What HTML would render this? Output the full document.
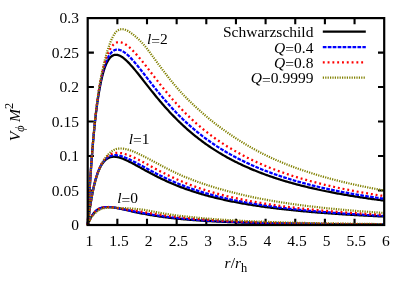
<!DOCTYPE html>
<html><head><meta charset="utf-8"><title>V phi</title>
<style>
html,body{margin:0;padding:0;background:#fff;}
svg{display:block;will-change:transform;font-family:"Liberation Serif",serif;font-size:15.5px;fill:#000;}
</style></head>
<body>
<svg width="415" height="290" viewBox="0 0 415 290">
<rect x="0" y="0" width="415" height="290" fill="#fff"/>
<g stroke="#000" stroke-width="2.1" fill="none">
<path d="M117.35,225.00 v-6.2 M117.35,18.10 v6.2"/>
<path d="M147.00,225.00 v-6.2 M147.00,18.10 v6.2"/>
<path d="M176.65,225.00 v-6.2 M176.65,18.10 v6.2"/>
<path d="M206.30,225.00 v-6.2 M206.30,18.10 v6.2"/>
<path d="M235.95,225.00 v-6.2 M235.95,18.10 v6.2"/>
<path d="M265.60,225.00 v-6.2 M265.60,18.10 v6.2"/>
<path d="M295.25,225.00 v-6.2 M295.25,18.10 v6.2"/>
<path d="M324.90,225.00 v-6.2 M324.90,18.10 v6.2"/>
<path d="M354.55,225.00 v-6.2 M354.55,18.10 v6.2"/>
<path d="M87.70,190.52 h6.2 M384.20,190.52 h-6.2"/>
<path d="M87.70,156.03 h6.2 M384.20,156.03 h-6.2"/>
<path d="M87.70,121.55 h6.2 M384.20,121.55 h-6.2"/>
<path d="M87.70,87.07 h6.2 M384.20,87.07 h-6.2"/>
<path d="M87.70,52.58 h6.2 M384.20,52.58 h-6.2"/>
</g>
<g>
<path d="M87.70,225.20 L88.00,219.26 L88.29,213.50 L88.59,207.92 L88.89,202.52 L89.18,197.28 L89.48,192.20 L89.78,187.28 L90.07,182.52 L90.37,177.90 L90.67,173.43 L90.96,169.09 L91.26,164.89 L91.55,160.82 L91.85,156.88 L92.15,153.06 L92.44,149.36 L92.74,145.78 L93.04,142.31 L93.33,138.95 L93.63,135.70 L93.93,132.55 L94.22,129.50 L94.52,126.55 L94.82,123.69 L95.11,120.92 L95.41,118.25 L95.71,115.66 L96.00,113.15 L96.30,110.73 L96.59,108.38 L96.89,106.12 L97.19,103.92 L97.48,101.80 L97.78,99.75 L98.08,97.77 L98.37,95.86 L98.67,94.01 L98.97,92.23 L99.26,90.50 L99.56,88.84 L99.86,87.23 L100.15,85.68 L100.45,84.18 L100.75,82.74 L101.04,81.35 L101.34,80.01 L101.64,78.72 L101.93,77.48 L102.23,76.28 L102.53,75.13 L102.82,74.02 L103.12,72.95 L103.41,71.93 L103.71,70.95 L104.01,70.00 L104.30,69.09 L104.60,68.23 L104.90,67.39 L105.19,66.59 L105.49,65.83 L105.79,65.10 L106.08,64.40 L106.38,63.73 L106.68,63.09 L106.97,62.49 L107.27,61.91 L107.57,61.36 L107.86,60.84 L108.16,60.34 L108.46,59.87 L108.75,59.42 L109.05,59.00 L109.34,58.61 L109.64,58.23 L109.94,57.88 L110.23,57.55 L110.53,57.25 L110.83,56.96 L111.12,56.69 L111.42,56.45 L111.72,56.22 L112.01,56.01 L112.31,55.82 L112.61,55.64 L112.90,55.49 L113.20,55.35 L113.50,55.23 L113.79,55.12 L114.09,55.03 L114.39,54.95 L114.68,54.89 L114.98,54.84 L115.27,54.80 L115.57,54.78 L115.87,54.77 L116.16,54.78 L116.46,54.79 L116.76,54.82 L117.05,54.86 L117.35,54.91 L117.65,54.97 L117.94,55.05 L118.24,55.13 L118.54,55.22 L118.83,55.33 L119.13,55.44 L119.43,55.56 L119.72,55.69 L120.02,55.83 L120.32,55.98 L120.61,56.14 L120.91,56.30 L121.20,56.47 L121.50,56.65 L121.80,56.84 L122.09,57.03 L122.39,57.23 L122.69,57.44 L122.98,57.66 L123.28,57.88 L124.47,58.82 L125.65,59.85 L126.84,60.95 L128.02,62.12 L129.21,63.35 L130.40,64.64 L131.58,65.96 L132.77,67.33 L133.95,68.73 L135.14,70.15 L136.33,71.60 L137.51,73.07 L138.70,74.55 L139.88,76.05 L141.07,77.55 L142.26,79.06 L143.44,80.57 L144.63,82.09 L145.81,83.60 L147.00,85.11 L148.19,86.62 L149.37,88.12 L150.56,89.61 L151.74,91.10 L152.93,92.57 L154.12,94.04 L155.30,95.49 L156.49,96.94 L157.67,98.37 L158.86,99.78 L160.05,101.19 L161.23,102.58 L162.42,103.95 L163.60,105.31 L164.79,106.66 L165.98,107.99 L167.16,109.30 L168.35,110.60 L169.53,111.89 L170.72,113.16 L171.91,114.41 L173.09,115.65 L174.28,116.87 L175.46,118.08 L176.65,119.27 L177.84,120.44 L179.02,121.60 L180.21,122.75 L181.39,123.88 L182.58,124.99 L183.77,126.09 L184.95,127.17 L186.14,128.24 L187.32,129.30 L188.51,130.34 L189.70,131.36 L190.88,132.37 L192.07,133.37 L193.25,134.35 L194.44,135.32 L195.63,136.28 L196.81,137.22 L198.00,138.15 L199.18,139.07 L200.37,139.98 L201.56,140.87 L202.74,141.75 L203.93,142.61 L205.11,143.47 L206.30,144.31 L207.49,145.14 L208.67,145.96 L209.86,146.77 L211.04,147.57 L212.23,148.36 L213.42,149.13 L214.60,149.90 L215.79,150.65 L216.97,151.39 L218.16,152.13 L219.35,152.85 L220.53,153.56 L221.72,154.27 L222.90,154.96 L224.09,155.65 L225.28,156.32 L226.46,156.99 L227.65,157.65 L228.83,158.29 L230.02,158.93 L231.21,159.57 L232.39,160.19 L233.58,160.80 L234.76,161.41 L235.95,162.01 L237.14,162.60 L238.32,163.18 L239.51,163.75 L240.69,164.32 L241.88,164.88 L243.07,165.43 L244.25,165.98 L245.44,166.52 L246.62,167.05 L247.81,167.57 L249.00,168.09 L250.18,168.60 L251.37,169.11 L252.55,169.60 L253.74,170.10 L254.93,170.58 L256.11,171.06 L257.30,171.53 L258.48,172.00 L259.67,172.46 L260.86,172.92 L262.04,173.37 L263.23,173.81 L264.41,174.25 L265.60,174.69 L266.79,175.12 L267.97,175.54 L269.16,175.96 L270.34,176.37 L271.53,176.78 L272.72,177.18 L273.90,177.58 L275.09,177.97 L276.27,178.36 L277.46,178.74 L278.65,179.12 L279.83,179.50 L281.02,179.87 L282.20,180.24 L283.39,180.60 L284.58,180.96 L285.76,181.31 L286.95,181.66 L288.13,182.00 L289.32,182.35 L290.51,182.68 L291.69,183.02 L292.88,183.35 L294.06,183.67 L295.25,183.99 L296.44,184.31 L297.62,184.63 L298.81,184.94 L299.99,185.25 L301.18,185.55 L302.37,185.85 L303.55,186.15 L304.74,186.45 L305.92,186.74 L307.11,187.03 L308.30,187.31 L309.48,187.59 L310.67,187.87 L311.85,188.15 L313.04,188.42 L314.23,188.69 L315.41,188.96 L316.60,189.22 L317.78,189.48 L318.97,189.74 L320.16,190.00 L321.34,190.25 L322.53,190.50 L323.71,190.75 L324.90,190.99 L326.09,191.24 L327.27,191.48 L328.46,191.71 L329.64,191.95 L330.83,192.18 L332.02,192.41 L333.20,192.64 L334.39,192.86 L335.57,193.09 L336.76,193.31 L337.95,193.53 L339.13,193.74 L340.32,193.96 L341.50,194.17 L342.69,194.38 L343.88,194.59 L345.06,194.80 L346.25,195.00 L347.43,195.20 L348.62,195.40 L349.81,195.60 L350.99,195.79 L352.18,195.99 L353.36,196.18 L354.55,196.37 L355.74,196.56 L356.92,196.75 L358.11,196.93 L359.29,197.11 L360.48,197.30 L361.67,197.48 L362.85,197.65 L364.04,197.83 L365.22,198.00 L366.41,198.18 L367.60,198.35 L368.78,198.52 L369.97,198.69 L371.15,198.85 L372.34,199.02 L373.53,199.18 L374.71,199.34 L375.90,199.50 L377.08,199.66 L378.27,199.82 L379.46,199.98 L380.64,200.13 L381.83,200.29 L383.01,200.44 L384.20,200.59" fill="none" stroke="#000" stroke-width="2.25"/>
<path d="M87.70,225.20 L88.00,222.66 L88.29,220.20 L88.59,217.82 L88.89,215.52 L89.18,213.29 L89.48,211.14 L89.78,209.06 L90.07,207.04 L90.37,205.10 L90.67,203.21 L90.96,201.39 L91.26,199.63 L91.55,197.93 L91.85,196.29 L92.15,194.70 L92.44,193.16 L92.74,191.68 L93.04,190.24 L93.33,188.86 L93.63,187.52 L93.93,186.22 L94.22,184.97 L94.52,183.76 L94.82,182.60 L95.11,181.47 L95.41,180.38 L95.71,179.34 L96.00,178.32 L96.30,177.35 L96.59,176.40 L96.89,175.49 L97.19,174.62 L97.48,173.77 L97.78,172.96 L98.08,172.17 L98.37,171.41 L98.67,170.69 L98.97,169.98 L99.26,169.31 L99.56,168.66 L99.86,168.03 L100.15,167.43 L100.45,166.85 L100.75,166.30 L101.04,165.77 L101.34,165.25 L101.64,164.76 L101.93,164.29 L102.23,163.84 L102.53,163.41 L102.82,162.99 L103.12,162.59 L103.41,162.21 L103.71,161.85 L104.01,161.51 L104.30,161.18 L104.60,160.86 L104.90,160.56 L105.19,160.27 L105.49,160.00 L105.79,159.74 L106.08,159.50 L106.38,159.27 L106.68,159.05 L106.97,158.84 L107.27,158.65 L107.57,158.46 L107.86,158.29 L108.16,158.13 L108.46,157.98 L108.75,157.84 L109.05,157.71 L109.34,157.58 L109.64,157.47 L109.94,157.37 L110.23,157.27 L110.53,157.19 L110.83,157.11 L111.12,157.04 L111.42,156.98 L111.72,156.93 L112.01,156.88 L112.31,156.84 L112.61,156.81 L112.90,156.78 L113.20,156.76 L113.50,156.75 L113.79,156.74 L114.09,156.74 L114.39,156.75 L114.68,156.76 L114.98,156.78 L115.27,156.80 L115.57,156.82 L115.87,156.86 L116.16,156.89 L116.46,156.93 L116.76,156.98 L117.05,157.03 L117.35,157.08 L117.65,157.14 L117.94,157.21 L118.24,157.27 L118.54,157.34 L118.83,157.42 L119.13,157.50 L119.43,157.58 L119.72,157.66 L120.02,157.75 L120.32,157.84 L120.61,157.93 L120.91,158.03 L121.20,158.13 L121.50,158.23 L121.80,158.34 L122.09,158.45 L122.39,158.56 L122.69,158.67 L122.98,158.78 L123.28,158.90 L124.47,159.39 L125.65,159.91 L126.84,160.46 L128.02,161.03 L129.21,161.62 L130.40,162.22 L131.58,162.84 L132.77,163.47 L133.95,164.11 L135.14,164.76 L136.33,165.41 L137.51,166.07 L138.70,166.73 L139.88,167.39 L141.07,168.05 L142.26,168.71 L143.44,169.36 L144.63,170.02 L145.81,170.67 L147.00,171.32 L148.19,171.96 L149.37,172.60 L150.56,173.24 L151.74,173.87 L152.93,174.49 L154.12,175.11 L155.30,175.72 L156.49,176.32 L157.67,176.92 L158.86,177.51 L160.05,178.09 L161.23,178.66 L162.42,179.23 L163.60,179.79 L164.79,180.35 L165.98,180.89 L167.16,181.43 L168.35,181.96 L169.53,182.49 L170.72,183.00 L171.91,183.51 L173.09,184.01 L174.28,184.51 L175.46,184.99 L176.65,185.48 L177.84,185.95 L179.02,186.41 L180.21,186.87 L181.39,187.33 L182.58,187.77 L183.77,188.21 L184.95,188.64 L186.14,189.07 L187.32,189.49 L188.51,189.90 L189.70,190.31 L190.88,190.71 L192.07,191.10 L193.25,191.49 L194.44,191.88 L195.63,192.25 L196.81,192.62 L198.00,192.99 L199.18,193.35 L200.37,193.70 L201.56,194.05 L202.74,194.40 L203.93,194.74 L205.11,195.07 L206.30,195.40 L207.49,195.72 L208.67,196.04 L209.86,196.36 L211.04,196.67 L212.23,196.97 L213.42,197.27 L214.60,197.57 L215.79,197.86 L216.97,198.15 L218.16,198.43 L219.35,198.71 L220.53,198.99 L221.72,199.26 L222.90,199.52 L224.09,199.79 L225.28,200.05 L226.46,200.30 L227.65,200.55 L228.83,200.80 L230.02,201.05 L231.21,201.29 L232.39,201.53 L233.58,201.76 L234.76,201.99 L235.95,202.22 L237.14,202.45 L238.32,202.67 L239.51,202.89 L240.69,203.10 L241.88,203.31 L243.07,203.52 L244.25,203.73 L245.44,203.94 L246.62,204.14 L247.81,204.34 L249.00,204.53 L250.18,204.72 L251.37,204.91 L252.55,205.10 L253.74,205.29 L254.93,205.47 L256.11,205.65 L257.30,205.83 L258.48,206.01 L259.67,206.18 L260.86,206.35 L262.04,206.52 L263.23,206.69 L264.41,206.85 L265.60,207.02 L266.79,207.18 L267.97,207.33 L269.16,207.49 L270.34,207.65 L271.53,207.80 L272.72,207.95 L273.90,208.10 L275.09,208.24 L276.27,208.39 L277.46,208.53 L278.65,208.67 L279.83,208.81 L281.02,208.95 L282.20,209.09 L283.39,209.22 L284.58,209.36 L285.76,209.49 L286.95,209.62 L288.13,209.75 L289.32,209.87 L290.51,210.00 L291.69,210.12 L292.88,210.24 L294.06,210.36 L295.25,210.48 L296.44,210.60 L297.62,210.72 L298.81,210.83 L299.99,210.95 L301.18,211.06 L302.37,211.17 L303.55,211.28 L304.74,211.39 L305.92,211.50 L307.11,211.60 L308.30,211.71 L309.48,211.81 L310.67,211.92 L311.85,212.02 L313.04,212.12 L314.23,212.22 L315.41,212.31 L316.60,212.41 L317.78,212.51 L318.97,212.60 L320.16,212.70 L321.34,212.79 L322.53,212.88 L323.71,212.97 L324.90,213.06 L326.09,213.15 L327.27,213.24 L328.46,213.33 L329.64,213.41 L330.83,213.50 L332.02,213.58 L333.20,213.66 L334.39,213.75 L335.57,213.83 L336.76,213.91 L337.95,213.99 L339.13,214.07 L340.32,214.15 L341.50,214.22 L342.69,214.30 L343.88,214.38 L345.06,214.45 L346.25,214.53 L347.43,214.60 L348.62,214.67 L349.81,214.74 L350.99,214.82 L352.18,214.89 L353.36,214.96 L354.55,215.03 L355.74,215.09 L356.92,215.16 L358.11,215.23 L359.29,215.30 L360.48,215.36 L361.67,215.43 L362.85,215.49 L364.04,215.55 L365.22,215.62 L366.41,215.68 L367.60,215.74 L368.78,215.80 L369.97,215.87 L371.15,215.93 L372.34,215.99 L373.53,216.04 L374.71,216.10 L375.90,216.16 L377.08,216.22 L378.27,216.28 L379.46,216.33 L380.64,216.39 L381.83,216.44 L383.01,216.50 L384.20,216.55" fill="none" stroke="#000" stroke-width="2.25"/>
<path d="M87.70,225.20 L88.00,224.35 L88.29,223.54 L88.59,222.76 L88.89,222.01 L89.18,221.29 L89.48,220.60 L89.78,219.94 L90.07,219.30 L90.37,218.69 L90.67,218.11 L90.96,217.55 L91.26,217.01 L91.55,216.49 L91.85,215.99 L92.15,215.52 L92.44,215.06 L92.74,214.63 L93.04,214.21 L93.33,213.81 L93.63,213.42 L93.93,213.06 L94.22,212.71 L94.52,212.37 L94.82,212.05 L95.11,211.75 L95.41,211.45 L95.71,211.17 L96.00,210.91 L96.30,210.65 L96.59,210.41 L96.89,210.18 L97.19,209.96 L97.48,209.76 L97.78,209.56 L98.08,209.37 L98.37,209.19 L98.67,209.02 L98.97,208.86 L99.26,208.71 L99.56,208.57 L99.86,208.44 L100.15,208.31 L100.45,208.19 L100.75,208.08 L101.04,207.97 L101.34,207.87 L101.64,207.78 L101.93,207.70 L102.23,207.62 L102.53,207.54 L102.82,207.48 L103.12,207.41 L103.41,207.36 L103.71,207.31 L104.01,207.26 L104.30,207.22 L104.60,207.18 L104.90,207.14 L105.19,207.11 L105.49,207.09 L105.79,207.07 L106.08,207.05 L106.38,207.04 L106.68,207.03 L106.97,207.02 L107.27,207.02 L107.57,207.02 L107.86,207.02 L108.16,207.02 L108.46,207.03 L108.75,207.04 L109.05,207.06 L109.34,207.07 L109.64,207.09 L109.94,207.11 L110.23,207.13 L110.53,207.16 L110.83,207.19 L111.12,207.22 L111.42,207.25 L111.72,207.28 L112.01,207.32 L112.31,207.35 L112.61,207.39 L112.90,207.43 L113.20,207.47 L113.50,207.51 L113.79,207.56 L114.09,207.60 L114.39,207.65 L114.68,207.70 L114.98,207.74 L115.27,207.79 L115.57,207.85 L115.87,207.90 L116.16,207.95 L116.46,208.00 L116.76,208.06 L117.05,208.11 L117.35,208.17 L117.65,208.23 L117.94,208.29 L118.24,208.34 L118.54,208.40 L118.83,208.46 L119.13,208.52 L119.43,208.59 L119.72,208.65 L120.02,208.71 L120.32,208.77 L120.61,208.83 L120.91,208.90 L121.20,208.96 L121.50,209.02 L121.80,209.09 L122.09,209.15 L122.39,209.22 L122.69,209.28 L122.98,209.35 L123.28,209.41 L124.47,209.68 L125.65,209.95 L126.84,210.21 L128.02,210.48 L129.21,210.75 L130.40,211.02 L131.58,211.28 L132.77,211.54 L133.95,211.80 L135.14,212.06 L136.33,212.31 L137.51,212.56 L138.70,212.81 L139.88,213.05 L141.07,213.29 L142.26,213.53 L143.44,213.76 L144.63,213.98 L145.81,214.21 L147.00,214.42 L148.19,214.64 L149.37,214.85 L150.56,215.05 L151.74,215.25 L152.93,215.45 L154.12,215.64 L155.30,215.83 L156.49,216.01 L157.67,216.19 L158.86,216.37 L160.05,216.54 L161.23,216.71 L162.42,216.87 L163.60,217.03 L164.79,217.19 L165.98,217.34 L167.16,217.49 L168.35,217.64 L169.53,217.78 L170.72,217.92 L171.91,218.06 L173.09,218.20 L174.28,218.33 L175.46,218.45 L176.65,218.58 L177.84,218.70 L179.02,218.82 L180.21,218.94 L181.39,219.05 L182.58,219.16 L183.77,219.27 L184.95,219.38 L186.14,219.48 L187.32,219.59 L188.51,219.68 L189.70,219.78 L190.88,219.88 L192.07,219.97 L193.25,220.06 L194.44,220.15 L195.63,220.24 L196.81,220.32 L198.00,220.41 L199.18,220.49 L200.37,220.57 L201.56,220.65 L202.74,220.72 L203.93,220.80 L205.11,220.87 L206.30,220.94 L207.49,221.01 L208.67,221.08 L209.86,221.15 L211.04,221.21 L212.23,221.28 L213.42,221.34 L214.60,221.40 L215.79,221.47 L216.97,221.52 L218.16,221.58 L219.35,221.64 L220.53,221.70 L221.72,221.75 L222.90,221.80 L224.09,221.86 L225.28,221.91 L226.46,221.96 L227.65,222.01 L228.83,222.06 L230.02,222.10 L231.21,222.15 L232.39,222.20 L233.58,222.24 L234.76,222.28 L235.95,222.33 L237.14,222.37 L238.32,222.41 L239.51,222.45 L240.69,222.49 L241.88,222.53 L243.07,222.57 L244.25,222.61 L245.44,222.64 L246.62,222.68 L247.81,222.72 L249.00,222.75 L250.18,222.79 L251.37,222.82 L252.55,222.85 L253.74,222.88 L254.93,222.92 L256.11,222.95 L257.30,222.98 L258.48,223.01 L259.67,223.04 L260.86,223.07 L262.04,223.10 L263.23,223.12 L264.41,223.15 L265.60,223.18 L266.79,223.21 L267.97,223.23 L269.16,223.26 L270.34,223.28 L271.53,223.31 L272.72,223.33 L273.90,223.36 L275.09,223.38 L276.27,223.40 L277.46,223.43 L278.65,223.45 L279.83,223.47 L281.02,223.49 L282.20,223.51 L283.39,223.54 L284.58,223.56 L285.76,223.58 L286.95,223.60 L288.13,223.62 L289.32,223.64 L290.51,223.66 L291.69,223.67 L292.88,223.69 L294.06,223.71 L295.25,223.73 L296.44,223.75 L297.62,223.76 L298.81,223.78 L299.99,223.80 L301.18,223.81 L302.37,223.83 L303.55,223.85 L304.74,223.86 L305.92,223.88 L307.11,223.89 L308.30,223.91 L309.48,223.92 L310.67,223.94 L311.85,223.95 L313.04,223.97 L314.23,223.98 L315.41,223.99 L316.60,224.01 L317.78,224.02 L318.97,224.03 L320.16,224.05 L321.34,224.06 L322.53,224.07 L323.71,224.08 L324.90,224.10 L326.09,224.11 L327.27,224.12 L328.46,224.13 L329.64,224.14 L330.83,224.16 L332.02,224.17 L333.20,224.18 L334.39,224.19 L335.57,224.20 L336.76,224.21 L337.95,224.22 L339.13,224.23 L340.32,224.24 L341.50,224.25 L342.69,224.26 L343.88,224.27 L345.06,224.28 L346.25,224.29 L347.43,224.30 L348.62,224.31 L349.81,224.32 L350.99,224.33 L352.18,224.33 L353.36,224.34 L354.55,224.35 L355.74,224.36 L356.92,224.37 L358.11,224.38 L359.29,224.39 L360.48,224.39 L361.67,224.40 L362.85,224.41 L364.04,224.42 L365.22,224.42 L366.41,224.43 L367.60,224.44 L368.78,224.45 L369.97,224.45 L371.15,224.46 L372.34,224.47 L373.53,224.48 L374.71,224.48 L375.90,224.49 L377.08,224.50 L378.27,224.50 L379.46,224.51 L380.64,224.52 L381.83,224.52 L383.01,224.53 L384.20,224.53" fill="none" stroke="#000" stroke-width="2.25"/>
<path d="M87.70,225.20 L88.00,219.26 L88.29,213.50 L88.59,207.92 L88.89,202.50 L89.18,197.26 L89.48,192.17 L89.78,187.24 L90.07,182.46 L90.37,177.83 L90.67,173.33 L90.96,168.98 L91.26,164.76 L91.55,160.67 L91.85,156.70 L92.15,152.86 L92.44,149.14 L92.74,145.53 L93.04,142.03 L93.33,138.64 L93.63,135.35 L93.93,132.17 L94.22,129.09 L94.52,126.10 L94.82,123.21 L95.11,120.40 L95.41,117.69 L95.71,115.06 L96.00,112.51 L96.30,110.04 L96.59,107.66 L96.89,105.34 L97.19,103.11 L97.48,100.94 L97.78,98.84 L98.08,96.81 L98.37,94.85 L98.67,92.95 L98.97,91.11 L99.26,89.33 L99.56,87.62 L99.86,85.95 L100.15,84.35 L100.45,82.80 L100.75,81.30 L101.04,79.85 L101.34,78.45 L101.64,77.10 L101.93,75.80 L102.23,74.54 L102.53,73.33 L102.82,72.16 L103.12,71.03 L103.41,69.94 L103.71,68.89 L104.01,67.88 L104.30,66.91 L104.60,65.97 L104.90,65.06 L105.19,64.20 L105.49,63.36 L105.79,62.56 L106.08,61.79 L106.38,61.05 L106.68,60.33 L106.97,59.65 L107.27,59.00 L107.57,58.37 L107.86,57.78 L108.16,57.20 L108.46,56.66 L108.75,56.14 L109.05,55.64 L109.34,55.17 L109.64,54.72 L109.94,54.29 L110.23,53.89 L110.53,53.50 L110.83,53.14 L111.12,52.80 L111.42,52.48 L111.72,52.18 L112.01,51.89 L112.31,51.63 L112.61,51.38 L112.90,51.16 L113.20,50.95 L113.50,50.75 L113.79,50.58 L114.09,50.42 L114.39,50.27 L114.68,50.14 L114.98,50.03 L115.27,49.93 L115.57,49.85 L115.87,49.78 L116.16,49.72 L116.46,49.68 L116.76,49.65 L117.05,49.64 L117.35,49.63 L117.65,49.64 L117.94,49.66 L118.24,49.69 L118.54,49.73 L118.83,49.79 L119.13,49.85 L119.43,49.92 L119.72,50.00 L120.02,50.09 L120.32,50.19 L120.61,50.30 L120.91,50.41 L121.20,50.54 L121.50,50.67 L121.80,50.81 L122.09,50.96 L122.39,51.12 L122.69,51.28 L122.98,51.45 L123.28,51.63 L124.47,52.40 L125.65,53.28 L126.84,54.25 L128.02,55.29 L129.21,56.42 L130.40,57.61 L131.58,58.86 L132.77,60.17 L133.95,61.52 L135.14,62.90 L136.33,64.32 L137.51,65.76 L138.70,67.23 L139.88,68.71 L141.07,70.21 L142.26,71.72 L143.44,73.24 L144.63,74.77 L145.81,76.30 L147.00,77.83 L148.19,79.36 L149.37,80.88 L150.56,82.41 L151.74,83.92 L152.93,85.44 L154.12,86.94 L155.30,88.43 L156.49,89.91 L157.67,91.39 L158.86,92.85 L160.05,94.29 L161.23,95.73 L162.42,97.14 L163.60,98.55 L164.79,99.94 L165.98,101.32 L167.16,102.68 L168.35,104.03 L169.53,105.36 L170.72,106.68 L171.91,107.98 L173.09,109.26 L174.28,110.53 L175.46,111.78 L176.65,113.02 L177.84,114.23 L179.02,115.44 L180.21,116.62 L181.39,117.79 L182.58,118.94 L183.77,120.08 L184.95,121.20 L186.14,122.31 L187.32,123.40 L188.51,124.48 L189.70,125.54 L190.88,126.59 L192.07,127.62 L193.25,128.64 L194.44,129.64 L195.63,130.63 L196.81,131.61 L198.00,132.58 L199.18,133.53 L200.37,134.47 L201.56,135.39 L202.74,136.31 L203.93,137.21 L205.11,138.10 L206.30,138.97 L207.49,139.84 L208.67,140.69 L209.86,141.54 L211.04,142.37 L212.23,143.18 L213.42,143.99 L214.60,144.79 L215.79,145.58 L216.97,146.35 L218.16,147.12 L219.35,147.87 L220.53,148.62 L221.72,149.35 L222.90,150.08 L224.09,150.79 L225.28,151.50 L226.46,152.19 L227.65,152.88 L228.83,153.56 L230.02,154.23 L231.21,154.89 L232.39,155.55 L233.58,156.19 L234.76,156.83 L235.95,157.46 L237.14,158.08 L238.32,158.69 L239.51,159.29 L240.69,159.89 L241.88,160.48 L243.07,161.06 L244.25,161.63 L245.44,162.20 L246.62,162.76 L247.81,163.31 L249.00,163.86 L250.18,164.40 L251.37,164.93 L252.55,165.45 L253.74,165.97 L254.93,166.49 L256.11,166.99 L257.30,167.50 L258.48,167.99 L259.67,168.48 L260.86,168.96 L262.04,169.44 L263.23,169.92 L264.41,170.39 L265.60,170.85 L266.79,171.31 L267.97,171.76 L269.16,172.21 L270.34,172.65 L271.53,173.08 L272.72,173.51 L273.90,173.94 L275.09,174.36 L276.27,174.78 L277.46,175.19 L278.65,175.59 L279.83,176.00 L281.02,176.39 L282.20,176.78 L283.39,177.17 L284.58,177.56 L285.76,177.94 L286.95,178.31 L288.13,178.68 L289.32,179.05 L290.51,179.41 L291.69,179.77 L292.88,180.12 L294.06,180.47 L295.25,180.82 L296.44,181.16 L297.62,181.50 L298.81,181.84 L299.99,182.17 L301.18,182.50 L302.37,182.82 L303.55,183.14 L304.74,183.46 L305.92,183.78 L307.11,184.09 L308.30,184.39 L309.48,184.70 L310.67,185.00 L311.85,185.29 L313.04,185.59 L314.23,185.88 L315.41,186.17 L316.60,186.45 L317.78,186.73 L318.97,187.01 L320.16,187.29 L321.34,187.56 L322.53,187.83 L323.71,188.09 L324.90,188.36 L326.09,188.62 L327.27,188.88 L328.46,189.14 L329.64,189.39 L330.83,189.64 L332.02,189.89 L333.20,190.14 L334.39,190.38 L335.57,190.62 L336.76,190.86 L337.95,191.10 L339.13,191.33 L340.32,191.56 L341.50,191.79 L342.69,192.02 L343.88,192.25 L345.06,192.47 L346.25,192.69 L347.43,192.91 L348.62,193.13 L349.81,193.34 L350.99,193.56 L352.18,193.77 L353.36,193.97 L354.55,194.18 L355.74,194.39 L356.92,194.59 L358.11,194.79 L359.29,194.99 L360.48,195.18 L361.67,195.38 L362.85,195.57 L364.04,195.76 L365.22,195.95 L366.41,196.14 L367.60,196.33 L368.78,196.51 L369.97,196.70 L371.15,196.88 L372.34,197.06 L373.53,197.23 L374.71,197.41 L375.90,197.59 L377.08,197.76 L378.27,197.93 L379.46,198.10 L380.64,198.27 L381.83,198.44 L383.01,198.60 L384.20,198.77" fill="none" stroke="#0000ff" stroke-width="2.25" stroke-dasharray="3.7 1.25"/>
<path d="M87.70,225.20 L88.00,222.66 L88.29,220.19 L88.59,217.81 L88.89,215.51 L89.18,213.28 L89.48,211.13 L89.78,209.04 L90.07,207.02 L90.37,205.07 L90.67,203.18 L90.96,201.36 L91.26,199.59 L91.55,197.88 L91.85,196.23 L92.15,194.63 L92.44,193.09 L92.74,191.59 L93.04,190.15 L93.33,188.75 L93.63,187.40 L93.93,186.09 L94.22,184.83 L94.52,183.61 L94.82,182.44 L95.11,181.30 L95.41,180.20 L95.71,179.13 L96.00,178.11 L96.30,177.12 L96.59,176.16 L96.89,175.23 L97.19,174.34 L97.48,173.48 L97.78,172.65 L98.08,171.84 L98.37,171.07 L98.67,170.32 L98.97,169.60 L99.26,168.91 L99.56,168.24 L99.86,167.60 L100.15,166.98 L100.45,166.38 L100.75,165.80 L101.04,165.25 L101.34,164.72 L101.64,164.21 L101.93,163.71 L102.23,163.24 L102.53,162.79 L102.82,162.35 L103.12,161.93 L103.41,161.53 L103.71,161.15 L104.01,160.78 L104.30,160.43 L104.60,160.09 L104.90,159.76 L105.19,159.45 L105.49,159.16 L105.79,158.88 L106.08,158.61 L106.38,158.35 L106.68,158.11 L106.97,157.88 L107.27,157.66 L107.57,157.45 L107.86,157.25 L108.16,157.06 L108.46,156.89 L108.75,156.72 L109.05,156.57 L109.34,156.42 L109.64,156.28 L109.94,156.15 L110.23,156.04 L110.53,155.93 L110.83,155.82 L111.12,155.73 L111.42,155.64 L111.72,155.56 L112.01,155.49 L112.31,155.43 L112.61,155.37 L112.90,155.33 L113.20,155.28 L113.50,155.25 L113.79,155.22 L114.09,155.20 L114.39,155.18 L114.68,155.17 L114.98,155.16 L115.27,155.16 L115.57,155.17 L115.87,155.18 L116.16,155.20 L116.46,155.22 L116.76,155.25 L117.05,155.28 L117.35,155.31 L117.65,155.35 L117.94,155.40 L118.24,155.45 L118.54,155.50 L118.83,155.56 L119.13,155.62 L119.43,155.69 L119.72,155.75 L120.02,155.83 L120.32,155.90 L120.61,155.98 L120.91,156.06 L121.20,156.14 L121.50,156.23 L121.80,156.32 L122.09,156.42 L122.39,156.51 L122.69,156.61 L122.98,156.71 L123.28,156.81 L124.47,157.25 L125.65,157.72 L126.84,158.22 L128.02,158.75 L129.21,159.29 L130.40,159.86 L131.58,160.44 L132.77,161.04 L133.95,161.64 L135.14,162.26 L136.33,162.88 L137.51,163.51 L138.70,164.14 L139.88,164.78 L141.07,165.41 L142.26,166.06 L143.44,166.70 L144.63,167.34 L145.81,167.98 L147.00,168.63 L148.19,169.27 L149.37,169.90 L150.56,170.54 L151.74,171.17 L152.93,171.79 L154.12,172.42 L155.30,173.03 L156.49,173.64 L157.67,174.25 L158.86,174.84 L160.05,175.44 L161.23,176.02 L162.42,176.60 L163.60,177.17 L164.79,177.74 L165.98,178.30 L167.16,178.85 L168.35,179.39 L169.53,179.93 L170.72,180.46 L171.91,180.99 L173.09,181.50 L174.28,182.01 L175.46,182.52 L176.65,183.01 L177.84,183.50 L179.02,183.98 L180.21,184.46 L181.39,184.93 L182.58,185.39 L183.77,185.85 L184.95,186.30 L186.14,186.74 L187.32,187.18 L188.51,187.61 L189.70,188.03 L190.88,188.45 L192.07,188.86 L193.25,189.26 L194.44,189.66 L195.63,190.06 L196.81,190.44 L198.00,190.83 L199.18,191.20 L200.37,191.57 L201.56,191.94 L202.74,192.30 L203.93,192.65 L205.11,193.00 L206.30,193.34 L207.49,193.68 L208.67,194.02 L209.86,194.34 L211.04,194.67 L212.23,194.99 L213.42,195.30 L214.60,195.61 L215.79,195.92 L216.97,196.22 L218.16,196.51 L219.35,196.81 L220.53,197.10 L221.72,197.38 L222.90,197.66 L224.09,197.94 L225.28,198.21 L226.46,198.48 L227.65,198.74 L228.83,199.00 L230.02,199.26 L231.21,199.51 L232.39,199.77 L233.58,200.01 L234.76,200.26 L235.95,200.50 L237.14,200.73 L238.32,200.97 L239.51,201.20 L240.69,201.43 L241.88,201.65 L243.07,201.87 L244.25,202.09 L245.44,202.31 L246.62,202.52 L247.81,202.73 L249.00,202.94 L250.18,203.14 L251.37,203.34 L252.55,203.54 L253.74,203.74 L254.93,203.93 L256.11,204.13 L257.30,204.31 L258.48,204.50 L259.67,204.69 L260.86,204.87 L262.04,205.05 L263.23,205.23 L264.41,205.40 L265.60,205.58 L266.79,205.75 L267.97,205.92 L269.16,206.09 L270.34,206.25 L271.53,206.42 L272.72,206.58 L273.90,206.74 L275.09,206.90 L276.27,207.05 L277.46,207.21 L278.65,207.36 L279.83,207.51 L281.02,207.66 L282.20,207.80 L283.39,207.95 L284.58,208.09 L285.76,208.23 L286.95,208.37 L288.13,208.51 L289.32,208.65 L290.51,208.78 L291.69,208.92 L292.88,209.05 L294.06,209.18 L295.25,209.31 L296.44,209.43 L297.62,209.56 L298.81,209.68 L299.99,209.81 L301.18,209.93 L302.37,210.05 L303.55,210.17 L304.74,210.29 L305.92,210.40 L307.11,210.52 L308.30,210.63 L309.48,210.75 L310.67,210.86 L311.85,210.97 L313.04,211.08 L314.23,211.18 L315.41,211.29 L316.60,211.40 L317.78,211.50 L318.97,211.60 L320.16,211.71 L321.34,211.81 L322.53,211.91 L323.71,212.01 L324.90,212.10 L326.09,212.20 L327.27,212.29 L328.46,212.39 L329.64,212.48 L330.83,212.57 L332.02,212.67 L333.20,212.76 L334.39,212.85 L335.57,212.93 L336.76,213.02 L337.95,213.11 L339.13,213.19 L340.32,213.28 L341.50,213.36 L342.69,213.45 L343.88,213.53 L345.06,213.61 L346.25,213.69 L347.43,213.77 L348.62,213.85 L349.81,213.93 L350.99,214.00 L352.18,214.08 L353.36,214.16 L354.55,214.23 L355.74,214.31 L356.92,214.38 L358.11,214.45 L359.29,214.53 L360.48,214.60 L361.67,214.67 L362.85,214.74 L364.04,214.81 L365.22,214.88 L366.41,214.94 L367.60,215.01 L368.78,215.08 L369.97,215.15 L371.15,215.21 L372.34,215.28 L373.53,215.34 L374.71,215.40 L375.90,215.47 L377.08,215.53 L378.27,215.59 L379.46,215.65 L380.64,215.72 L381.83,215.78 L383.01,215.84 L384.20,215.90" fill="none" stroke="#0000ff" stroke-width="2.25" stroke-dasharray="3.7 1.25"/>
<path d="M87.70,225.20 L88.00,224.35 L88.29,223.54 L88.59,222.76 L88.89,222.01 L89.18,221.29 L89.48,220.60 L89.78,219.94 L90.07,219.30 L90.37,218.69 L90.67,218.11 L90.96,217.55 L91.26,217.01 L91.55,216.49 L91.85,215.99 L92.15,215.52 L92.44,215.06 L92.74,214.63 L93.04,214.21 L93.33,213.81 L93.63,213.42 L93.93,213.06 L94.22,212.71 L94.52,212.37 L94.82,212.05 L95.11,211.75 L95.41,211.45 L95.71,211.17 L96.00,210.91 L96.30,210.65 L96.59,210.41 L96.89,210.18 L97.19,209.96 L97.48,209.76 L97.78,209.56 L98.08,209.37 L98.37,209.19 L98.67,209.02 L98.97,208.86 L99.26,208.71 L99.56,208.57 L99.86,208.44 L100.15,208.31 L100.45,208.19 L100.75,208.08 L101.04,207.97 L101.34,207.87 L101.64,207.78 L101.93,207.70 L102.23,207.62 L102.53,207.54 L102.82,207.48 L103.12,207.41 L103.41,207.36 L103.71,207.30 L104.01,207.26 L104.30,207.21 L104.60,207.17 L104.90,207.14 L105.19,207.11 L105.49,207.08 L105.79,207.06 L106.08,207.04 L106.38,207.02 L106.68,207.01 L106.97,207.00 L107.27,206.99 L107.57,206.99 L107.86,206.98 L108.16,206.99 L108.46,206.99 L108.75,207.00 L109.05,207.01 L109.34,207.02 L109.64,207.03 L109.94,207.05 L110.23,207.07 L110.53,207.09 L110.83,207.11 L111.12,207.14 L111.42,207.17 L111.72,207.19 L112.01,207.22 L112.31,207.26 L112.61,207.29 L112.90,207.32 L113.20,207.36 L113.50,207.40 L113.79,207.44 L114.09,207.48 L114.39,207.52 L114.68,207.56 L114.98,207.61 L115.27,207.65 L115.57,207.70 L115.87,207.75 L116.16,207.80 L116.46,207.85 L116.76,207.90 L117.05,207.95 L117.35,208.00 L117.65,208.05 L117.94,208.11 L118.24,208.16 L118.54,208.22 L118.83,208.27 L119.13,208.33 L119.43,208.38 L119.72,208.44 L120.02,208.50 L120.32,208.56 L120.61,208.62 L120.91,208.67 L121.20,208.73 L121.50,208.79 L121.80,208.85 L122.09,208.91 L122.39,208.97 L122.69,209.03 L122.98,209.09 L123.28,209.15 L124.47,209.40 L125.65,209.64 L126.84,209.89 L128.02,210.14 L129.21,210.38 L130.40,210.63 L131.58,210.88 L132.77,211.12 L133.95,211.36 L135.14,211.60 L136.33,211.83 L137.51,212.05 L138.70,212.28 L139.88,212.50 L141.07,212.72 L142.26,212.93 L143.44,213.15 L144.63,213.36 L145.81,213.57 L147.00,213.78 L148.19,213.98 L149.37,214.19 L150.56,214.38 L151.74,214.58 L152.93,214.77 L154.12,214.96 L155.30,215.15 L156.49,215.33 L157.67,215.51 L158.86,215.69 L160.05,215.86 L161.23,216.03 L162.42,216.20 L163.60,216.37 L164.79,216.53 L165.98,216.69 L167.16,216.84 L168.35,217.00 L169.53,217.15 L170.72,217.29 L171.91,217.44 L173.09,217.58 L174.28,217.72 L175.46,217.85 L176.65,217.98 L177.84,218.11 L179.02,218.24 L180.21,218.36 L181.39,218.49 L182.58,218.60 L183.77,218.72 L184.95,218.84 L186.14,218.95 L187.32,219.06 L188.51,219.16 L189.70,219.27 L190.88,219.37 L192.07,219.47 L193.25,219.57 L194.44,219.66 L195.63,219.76 L196.81,219.85 L198.00,219.94 L199.18,220.03 L200.37,220.11 L201.56,220.20 L202.74,220.28 L203.93,220.36 L205.11,220.44 L206.30,220.52 L207.49,220.59 L208.67,220.67 L209.86,220.74 L211.04,220.81 L212.23,220.88 L213.42,220.95 L214.60,221.01 L215.79,221.08 L216.97,221.14 L218.16,221.21 L219.35,221.27 L220.53,221.33 L221.72,221.39 L222.90,221.44 L224.09,221.50 L225.28,221.56 L226.46,221.61 L227.65,221.66 L228.83,221.72 L230.02,221.77 L231.21,221.82 L232.39,221.87 L233.58,221.92 L234.76,221.96 L235.95,222.01 L237.14,222.06 L238.32,222.10 L239.51,222.15 L240.69,222.19 L241.88,222.23 L243.07,222.28 L244.25,222.32 L245.44,222.36 L246.62,222.40 L247.81,222.44 L249.00,222.47 L250.18,222.51 L251.37,222.55 L252.55,222.59 L253.74,222.62 L254.93,222.66 L256.11,222.69 L257.30,222.72 L258.48,222.76 L259.67,222.79 L260.86,222.82 L262.04,222.85 L263.23,222.89 L264.41,222.92 L265.60,222.95 L266.79,222.98 L267.97,223.01 L269.16,223.03 L270.34,223.06 L271.53,223.09 L272.72,223.12 L273.90,223.15 L275.09,223.17 L276.27,223.20 L277.46,223.22 L278.65,223.25 L279.83,223.27 L281.02,223.30 L282.20,223.32 L283.39,223.34 L284.58,223.37 L285.76,223.39 L286.95,223.41 L288.13,223.43 L289.32,223.46 L290.51,223.48 L291.69,223.50 L292.88,223.52 L294.06,223.54 L295.25,223.56 L296.44,223.58 L297.62,223.60 L298.81,223.62 L299.99,223.64 L301.18,223.65 L302.37,223.67 L303.55,223.69 L304.74,223.71 L305.92,223.73 L307.11,223.74 L308.30,223.76 L309.48,223.78 L310.67,223.79 L311.85,223.81 L313.04,223.82 L314.23,223.84 L315.41,223.85 L316.60,223.87 L317.78,223.88 L318.97,223.90 L320.16,223.91 L321.34,223.93 L322.53,223.94 L323.71,223.96 L324.90,223.97 L326.09,223.98 L327.27,224.00 L328.46,224.01 L329.64,224.02 L330.83,224.03 L332.02,224.05 L333.20,224.06 L334.39,224.07 L335.57,224.08 L336.76,224.10 L337.95,224.11 L339.13,224.12 L340.32,224.13 L341.50,224.14 L342.69,224.15 L343.88,224.16 L345.06,224.17 L346.25,224.18 L347.43,224.19 L348.62,224.21 L349.81,224.22 L350.99,224.23 L352.18,224.24 L353.36,224.24 L354.55,224.25 L355.74,224.26 L356.92,224.27 L358.11,224.28 L359.29,224.29 L360.48,224.30 L361.67,224.31 L362.85,224.32 L364.04,224.33 L365.22,224.34 L366.41,224.34 L367.60,224.35 L368.78,224.36 L369.97,224.37 L371.15,224.38 L372.34,224.38 L373.53,224.39 L374.71,224.40 L375.90,224.41 L377.08,224.42 L378.27,224.42 L379.46,224.43 L380.64,224.44 L381.83,224.44 L383.01,224.45 L384.20,224.46" fill="none" stroke="#0000ff" stroke-width="2.25" stroke-dasharray="3.7 1.25"/>
<path d="M87.70,225.20 L88.00,219.26 L88.29,213.49 L88.59,207.90 L88.89,202.48 L89.18,197.22 L89.48,192.12 L89.78,187.17 L90.07,182.37 L90.37,177.72 L90.67,173.20 L90.96,168.82 L91.26,164.57 L91.55,160.45 L91.85,156.45 L92.15,152.57 L92.44,148.81 L92.74,145.17 L93.04,141.63 L93.33,138.19 L93.63,134.87 L93.93,131.64 L94.22,128.51 L94.52,125.47 L94.82,122.53 L95.11,119.67 L95.41,116.91 L95.71,114.22 L96.00,111.62 L96.30,109.10 L96.59,106.65 L96.89,104.28 L97.19,101.98 L97.48,99.75 L97.78,97.59 L98.08,95.50 L98.37,93.47 L98.67,91.51 L98.97,89.60 L99.26,87.76 L99.56,85.97 L99.86,84.24 L100.15,82.56 L100.45,80.94 L100.75,79.36 L101.04,77.84 L101.34,76.37 L101.64,74.94 L101.93,73.56 L102.23,72.22 L102.53,70.93 L102.82,69.67 L103.12,68.46 L103.41,67.28 L103.71,66.15 L104.01,65.04 L104.30,63.97 L104.60,62.94 L104.90,61.94 L105.19,60.97 L105.49,60.04 L105.79,59.13 L106.08,58.26 L106.38,57.41 L106.68,56.60 L106.97,55.81 L107.27,55.05 L107.57,54.31 L107.86,53.61 L108.16,52.93 L108.46,52.27 L108.75,51.64 L109.05,51.03 L109.34,50.45 L109.64,49.89 L109.94,49.35 L110.23,48.83 L110.53,48.34 L110.83,47.87 L111.12,47.42 L111.42,46.99 L111.72,46.58 L112.01,46.19 L112.31,45.82 L112.61,45.47 L112.90,45.14 L113.20,44.83 L113.50,44.54 L113.79,44.27 L114.09,44.01 L114.39,43.77 L114.68,43.55 L114.98,43.34 L115.27,43.16 L115.57,42.99 L115.87,42.83 L116.16,42.70 L116.46,42.58 L116.76,42.47 L117.05,42.38 L117.35,42.31 L117.65,42.25 L117.94,42.21 L118.24,42.17 L118.54,42.15 L118.83,42.14 L119.13,42.14 L119.43,42.15 L119.72,42.17 L120.02,42.21 L120.32,42.25 L120.61,42.30 L120.91,42.36 L121.20,42.44 L121.50,42.52 L121.80,42.61 L122.09,42.71 L122.39,42.82 L122.69,42.93 L122.98,43.06 L123.28,43.19 L124.47,43.79 L125.65,44.51 L126.84,45.33 L128.02,46.24 L129.21,47.22 L130.40,48.28 L131.58,49.41 L132.77,50.59 L133.95,51.82 L135.14,53.08 L136.33,54.38 L137.51,55.72 L138.70,57.08 L139.88,58.47 L141.07,59.89 L142.26,61.33 L143.44,62.80 L144.63,64.29 L145.81,65.79 L147.00,67.32 L148.19,68.86 L149.37,70.40 L150.56,71.95 L151.74,73.50 L152.93,75.04 L154.12,76.59 L155.30,78.13 L156.49,79.66 L157.67,81.18 L158.86,82.70 L160.05,84.20 L161.23,85.70 L162.42,87.18 L163.60,88.65 L164.79,90.11 L165.98,91.55 L167.16,92.98 L168.35,94.40 L169.53,95.80 L170.72,97.19 L171.91,98.57 L173.09,99.92 L174.28,101.27 L175.46,102.59 L176.65,103.91 L177.84,105.20 L179.02,106.48 L180.21,107.75 L181.39,109.00 L182.58,110.23 L183.77,111.45 L184.95,112.66 L186.14,113.84 L187.32,115.02 L188.51,116.18 L189.70,117.32 L190.88,118.45 L192.07,119.56 L193.25,120.65 L194.44,121.74 L195.63,122.81 L196.81,123.86 L198.00,124.90 L199.18,125.92 L200.37,126.93 L201.56,127.93 L202.74,128.91 L203.93,129.88 L205.11,130.83 L206.30,131.78 L207.49,132.70 L208.67,133.62 L209.86,134.52 L211.04,135.41 L212.23,136.29 L213.42,137.15 L214.60,138.01 L215.79,138.85 L216.97,139.68 L218.16,140.50 L219.35,141.30 L220.53,142.10 L221.72,142.89 L222.90,143.67 L224.09,144.43 L225.28,145.19 L226.46,145.93 L227.65,146.67 L228.83,147.40 L230.02,148.12 L231.21,148.83 L232.39,149.53 L233.58,150.22 L234.76,150.90 L235.95,151.58 L237.14,152.25 L238.32,152.91 L239.51,153.56 L240.69,154.20 L241.88,154.83 L243.07,155.46 L244.25,156.08 L245.44,156.69 L246.62,157.29 L247.81,157.89 L249.00,158.48 L250.18,159.06 L251.37,159.63 L252.55,160.20 L253.74,160.76 L254.93,161.31 L256.11,161.86 L257.30,162.40 L258.48,162.93 L259.67,163.46 L260.86,163.98 L262.04,164.49 L263.23,165.00 L264.41,165.50 L265.60,166.00 L266.79,166.49 L267.97,166.97 L269.16,167.45 L270.34,167.93 L271.53,168.39 L272.72,168.86 L273.90,169.31 L275.09,169.77 L276.27,170.21 L277.46,170.65 L278.65,171.09 L279.83,171.52 L281.02,171.95 L282.20,172.37 L283.39,172.79 L284.58,173.20 L285.76,173.60 L286.95,174.01 L288.13,174.41 L289.32,174.80 L290.51,175.19 L291.69,175.57 L292.88,175.95 L294.06,176.33 L295.25,176.70 L296.44,177.07 L297.62,177.43 L298.81,177.79 L299.99,178.15 L301.18,178.50 L302.37,178.85 L303.55,179.19 L304.74,179.53 L305.92,179.87 L307.11,180.20 L308.30,180.53 L309.48,180.86 L310.67,181.18 L311.85,181.50 L313.04,181.81 L314.23,182.13 L315.41,182.43 L316.60,182.74 L317.78,183.04 L318.97,183.34 L320.16,183.64 L321.34,183.94 L322.53,184.23 L323.71,184.52 L324.90,184.80 L326.09,185.08 L327.27,185.36 L328.46,185.64 L329.64,185.91 L330.83,186.19 L332.02,186.45 L333.20,186.72 L334.39,186.98 L335.57,187.24 L336.76,187.50 L337.95,187.76 L339.13,188.01 L340.32,188.26 L341.50,188.51 L342.69,188.75 L343.88,189.00 L345.06,189.24 L346.25,189.48 L347.43,189.72 L348.62,189.95 L349.81,190.18 L350.99,190.42 L352.18,190.64 L353.36,190.87 L354.55,191.10 L355.74,191.32 L356.92,191.54 L358.11,191.76 L359.29,191.98 L360.48,192.19 L361.67,192.40 L362.85,192.61 L364.04,192.82 L365.22,193.03 L366.41,193.23 L367.60,193.44 L368.78,193.64 L369.97,193.84 L371.15,194.03 L372.34,194.23 L373.53,194.42 L374.71,194.61 L375.90,194.80 L377.08,194.99 L378.27,195.18 L379.46,195.36 L380.64,195.54 L381.83,195.73 L383.01,195.91 L384.20,196.08" fill="none" stroke="#ff0000" stroke-width="2.25" stroke-dasharray="1.9 2.9"/>
<path d="M87.70,225.20 L88.00,222.66 L88.29,220.19 L88.59,217.81 L88.89,215.51 L89.18,213.28 L89.48,211.12 L89.78,209.03 L90.07,207.01 L90.37,205.06 L90.67,203.17 L90.96,201.34 L91.26,199.57 L91.55,197.85 L91.85,196.20 L92.15,194.59 L92.44,193.04 L92.74,191.54 L93.04,190.08 L93.33,188.68 L93.63,187.32 L93.93,186.01 L94.22,184.73 L94.52,183.50 L94.82,182.32 L95.11,181.17 L95.41,180.05 L95.71,178.98 L96.00,177.94 L96.30,176.93 L96.59,175.96 L96.89,175.02 L97.19,174.11 L97.48,173.23 L97.78,172.37 L98.08,171.55 L98.37,170.76 L98.67,169.99 L98.97,169.24 L99.26,168.53 L99.56,167.83 L99.86,167.16 L100.15,166.52 L100.45,165.89 L100.75,165.29 L101.04,164.71 L101.34,164.15 L101.64,163.61 L101.93,163.09 L102.23,162.59 L102.53,162.11 L102.82,161.64 L103.12,161.20 L103.41,160.76 L103.71,160.35 L104.01,159.95 L104.30,159.56 L104.60,159.19 L104.90,158.83 L105.19,158.49 L105.49,158.16 L105.79,157.84 L106.08,157.54 L106.38,157.25 L106.68,156.97 L106.97,156.70 L107.27,156.44 L107.57,156.19 L107.86,155.96 L108.16,155.73 L108.46,155.52 L108.75,155.31 L109.05,155.12 L109.34,154.93 L109.64,154.76 L109.94,154.59 L110.23,154.43 L110.53,154.28 L110.83,154.14 L111.12,154.00 L111.42,153.88 L111.72,153.76 L112.01,153.65 L112.31,153.55 L112.61,153.45 L112.90,153.36 L113.20,153.28 L113.50,153.21 L113.79,153.14 L114.09,153.08 L114.39,153.02 L114.68,152.97 L114.98,152.93 L115.27,152.89 L115.57,152.86 L115.87,152.84 L116.16,152.82 L116.46,152.80 L116.76,152.79 L117.05,152.79 L117.35,152.79 L117.65,152.80 L117.94,152.81 L118.24,152.83 L118.54,152.84 L118.83,152.87 L119.13,152.89 L119.43,152.92 L119.72,152.96 L120.02,153.00 L120.32,153.04 L120.61,153.08 L120.91,153.13 L121.20,153.18 L121.50,153.23 L121.80,153.29 L122.09,153.35 L122.39,153.41 L122.69,153.48 L122.98,153.55 L123.28,153.62 L124.47,153.93 L125.65,154.28 L126.84,154.66 L128.02,155.08 L129.21,155.53 L130.40,156.00 L131.58,156.51 L132.77,157.03 L133.95,157.57 L135.14,158.12 L136.33,158.68 L137.51,159.25 L138.70,159.83 L139.88,160.42 L141.07,161.02 L142.26,161.63 L143.44,162.25 L144.63,162.88 L145.81,163.51 L147.00,164.15 L148.19,164.80 L149.37,165.45 L150.56,166.10 L151.74,166.74 L152.93,167.39 L154.12,168.03 L155.30,168.67 L156.49,169.30 L157.67,169.93 L158.86,170.56 L160.05,171.18 L161.23,171.80 L162.42,172.41 L163.60,173.01 L164.79,173.61 L165.98,174.20 L167.16,174.79 L168.35,175.37 L169.53,175.94 L170.72,176.51 L171.91,177.07 L173.09,177.62 L174.28,178.16 L175.46,178.70 L176.65,179.24 L177.84,179.77 L179.02,180.29 L180.21,180.80 L181.39,181.30 L182.58,181.80 L183.77,182.30 L184.95,182.78 L186.14,183.26 L187.32,183.73 L188.51,184.20 L189.70,184.66 L190.88,185.11 L192.07,185.56 L193.25,185.99 L194.44,186.43 L195.63,186.85 L196.81,187.28 L198.00,187.69 L199.18,188.10 L200.37,188.50 L201.56,188.90 L202.74,189.29 L203.93,189.67 L205.11,190.05 L206.30,190.42 L207.49,190.79 L208.67,191.15 L209.86,191.51 L211.04,191.86 L212.23,192.21 L213.42,192.55 L214.60,192.89 L215.79,193.22 L216.97,193.55 L218.16,193.87 L219.35,194.19 L220.53,194.50 L221.72,194.81 L222.90,195.11 L224.09,195.41 L225.28,195.71 L226.46,196.00 L227.65,196.29 L228.83,196.57 L230.02,196.85 L231.21,197.13 L232.39,197.40 L233.58,197.67 L234.76,197.94 L235.95,198.20 L237.14,198.46 L238.32,198.71 L239.51,198.96 L240.69,199.21 L241.88,199.46 L243.07,199.70 L244.25,199.93 L245.44,200.17 L246.62,200.40 L247.81,200.63 L249.00,200.85 L250.18,201.08 L251.37,201.30 L252.55,201.51 L253.74,201.73 L254.93,201.94 L256.11,202.15 L257.30,202.35 L258.48,202.56 L259.67,202.76 L260.86,202.96 L262.04,203.15 L263.23,203.34 L264.41,203.54 L265.60,203.72 L266.79,203.91 L267.97,204.09 L269.16,204.28 L270.34,204.46 L271.53,204.63 L272.72,204.81 L273.90,204.98 L275.09,205.15 L276.27,205.32 L277.46,205.49 L278.65,205.65 L279.83,205.81 L281.02,205.97 L282.20,206.13 L283.39,206.29 L284.58,206.45 L285.76,206.60 L286.95,206.75 L288.13,206.90 L289.32,207.05 L290.51,207.19 L291.69,207.34 L292.88,207.48 L294.06,207.62 L295.25,207.76 L296.44,207.90 L297.62,208.04 L298.81,208.17 L299.99,208.30 L301.18,208.43 L302.37,208.56 L303.55,208.69 L304.74,208.82 L305.92,208.95 L307.11,209.07 L308.30,209.19 L309.48,209.31 L310.67,209.44 L311.85,209.55 L313.04,209.67 L314.23,209.79 L315.41,209.90 L316.60,210.02 L317.78,210.13 L318.97,210.24 L320.16,210.35 L321.34,210.46 L322.53,210.57 L323.71,210.67 L324.90,210.78 L326.09,210.88 L327.27,210.99 L328.46,211.09 L329.64,211.19 L330.83,211.29 L332.02,211.39 L333.20,211.49 L334.39,211.58 L335.57,211.68 L336.76,211.77 L337.95,211.87 L339.13,211.96 L340.32,212.05 L341.50,212.14 L342.69,212.23 L343.88,212.32 L345.06,212.41 L346.25,212.50 L347.43,212.59 L348.62,212.67 L349.81,212.76 L350.99,212.84 L352.18,212.93 L353.36,213.01 L354.55,213.09 L355.74,213.17 L356.92,213.25 L358.11,213.33 L359.29,213.41 L360.48,213.49 L361.67,213.57 L362.85,213.65 L364.04,213.72 L365.22,213.80 L366.41,213.87 L367.60,213.95 L368.78,214.02 L369.97,214.09 L371.15,214.17 L372.34,214.24 L373.53,214.31 L374.71,214.38 L375.90,214.45 L377.08,214.52 L378.27,214.59 L379.46,214.65 L380.64,214.72 L381.83,214.79 L383.01,214.85 L384.20,214.92" fill="none" stroke="#ff0000" stroke-width="2.25" stroke-dasharray="1.9 2.9"/>
<path d="M87.70,225.20 L88.00,224.36 L88.29,223.55 L88.59,222.77 L88.89,222.02 L89.18,221.31 L89.48,220.62 L89.78,219.96 L90.07,219.33 L90.37,218.73 L90.67,218.15 L90.96,217.59 L91.26,217.06 L91.55,216.55 L91.85,216.06 L92.15,215.59 L92.44,215.15 L92.74,214.72 L93.04,214.31 L93.33,213.91 L93.63,213.53 L93.93,213.17 L94.22,212.83 L94.52,212.50 L94.82,212.18 L95.11,211.88 L95.41,211.59 L95.71,211.31 L96.00,211.05 L96.30,210.80 L96.59,210.56 L96.89,210.33 L97.19,210.12 L97.48,209.91 L97.78,209.71 L98.08,209.53 L98.37,209.35 L98.67,209.19 L98.97,209.03 L99.26,208.88 L99.56,208.74 L99.86,208.60 L100.15,208.48 L100.45,208.36 L100.75,208.25 L101.04,208.14 L101.34,208.05 L101.64,207.96 L101.93,207.87 L102.23,207.79 L102.53,207.72 L102.82,207.65 L103.12,207.59 L103.41,207.53 L103.71,207.48 L104.01,207.43 L104.30,207.39 L104.60,207.35 L104.90,207.31 L105.19,207.28 L105.49,207.25 L105.79,207.23 L106.08,207.21 L106.38,207.19 L106.68,207.17 L106.97,207.16 L107.27,207.15 L107.57,207.14 L107.86,207.14 L108.16,207.14 L108.46,207.14 L108.75,207.15 L109.05,207.15 L109.34,207.16 L109.64,207.17 L109.94,207.18 L110.23,207.20 L110.53,207.22 L110.83,207.23 L111.12,207.25 L111.42,207.28 L111.72,207.30 L112.01,207.33 L112.31,207.35 L112.61,207.38 L112.90,207.41 L113.20,207.44 L113.50,207.48 L113.79,207.51 L114.09,207.54 L114.39,207.58 L114.68,207.62 L114.98,207.66 L115.27,207.70 L115.57,207.74 L115.87,207.78 L116.16,207.82 L116.46,207.87 L116.76,207.91 L117.05,207.95 L117.35,208.00 L117.65,208.05 L117.94,208.09 L118.24,208.14 L118.54,208.18 L118.83,208.23 L119.13,208.27 L119.43,208.32 L119.72,208.36 L120.02,208.40 L120.32,208.45 L120.61,208.49 L120.91,208.53 L121.20,208.57 L121.50,208.62 L121.80,208.66 L122.09,208.70 L122.39,208.74 L122.69,208.78 L122.98,208.82 L123.28,208.86 L124.47,209.03 L125.65,209.19 L126.84,209.36 L128.02,209.53 L129.21,209.71 L130.40,209.89 L131.58,210.07 L132.77,210.27 L133.95,210.46 L135.14,210.65 L136.33,210.83 L137.51,211.02 L138.70,211.20 L139.88,211.39 L141.07,211.57 L142.26,211.76 L143.44,211.95 L144.63,212.14 L145.81,212.34 L147.00,212.54 L148.19,212.74 L149.37,212.94 L150.56,213.14 L151.74,213.34 L152.93,213.54 L154.12,213.73 L155.30,213.93 L156.49,214.12 L157.67,214.30 L158.86,214.49 L160.05,214.67 L161.23,214.85 L162.42,215.03 L163.60,215.20 L164.79,215.37 L165.98,215.54 L167.16,215.70 L168.35,215.86 L169.53,216.02 L170.72,216.18 L171.91,216.33 L173.09,216.48 L174.28,216.63 L175.46,216.78 L176.65,216.92 L177.84,217.07 L179.02,217.21 L180.21,217.34 L181.39,217.48 L182.58,217.61 L183.77,217.73 L184.95,217.86 L186.14,217.98 L187.32,218.10 L188.51,218.22 L189.70,218.34 L190.88,218.45 L192.07,218.56 L193.25,218.67 L194.44,218.78 L195.63,218.89 L196.81,218.99 L198.00,219.09 L199.18,219.19 L200.37,219.29 L201.56,219.38 L202.74,219.48 L203.93,219.57 L205.11,219.66 L206.30,219.75 L207.49,219.84 L208.67,219.92 L209.86,220.01 L211.04,220.09 L212.23,220.17 L213.42,220.25 L214.60,220.33 L215.79,220.40 L216.97,220.48 L218.16,220.55 L219.35,220.62 L220.53,220.69 L221.72,220.76 L222.90,220.83 L224.09,220.90 L225.28,220.96 L226.46,221.03 L227.65,221.09 L228.83,221.15 L230.02,221.21 L231.21,221.27 L232.39,221.33 L233.58,221.38 L234.76,221.44 L235.95,221.49 L237.14,221.55 L238.32,221.60 L239.51,221.65 L240.69,221.70 L241.88,221.75 L243.07,221.80 L244.25,221.85 L245.44,221.89 L246.62,221.94 L247.81,221.98 L249.00,222.03 L250.18,222.07 L251.37,222.11 L252.55,222.15 L253.74,222.20 L254.93,222.24 L256.11,222.28 L257.30,222.32 L258.48,222.35 L259.67,222.39 L260.86,222.43 L262.04,222.47 L263.23,222.50 L264.41,222.54 L265.60,222.57 L266.79,222.61 L267.97,222.64 L269.16,222.68 L270.34,222.71 L271.53,222.74 L272.72,222.77 L273.90,222.80 L275.09,222.83 L276.27,222.87 L277.46,222.89 L278.65,222.92 L279.83,222.95 L281.02,222.98 L282.20,223.01 L283.39,223.04 L284.58,223.06 L285.76,223.09 L286.95,223.12 L288.13,223.14 L289.32,223.17 L290.51,223.19 L291.69,223.22 L292.88,223.24 L294.06,223.26 L295.25,223.29 L296.44,223.31 L297.62,223.33 L298.81,223.35 L299.99,223.38 L301.18,223.40 L302.37,223.42 L303.55,223.44 L304.74,223.46 L305.92,223.48 L307.11,223.50 L308.30,223.52 L309.48,223.54 L310.67,223.56 L311.85,223.58 L313.04,223.60 L314.23,223.61 L315.41,223.63 L316.60,223.65 L317.78,223.67 L318.97,223.68 L320.16,223.70 L321.34,223.72 L322.53,223.73 L323.71,223.75 L324.90,223.77 L326.09,223.78 L327.27,223.80 L328.46,223.81 L329.64,223.83 L330.83,223.84 L332.02,223.86 L333.20,223.87 L334.39,223.88 L335.57,223.90 L336.76,223.91 L337.95,223.93 L339.13,223.94 L340.32,223.95 L341.50,223.97 L342.69,223.98 L343.88,223.99 L345.06,224.00 L346.25,224.02 L347.43,224.03 L348.62,224.04 L349.81,224.05 L350.99,224.06 L352.18,224.08 L353.36,224.09 L354.55,224.10 L355.74,224.11 L356.92,224.12 L358.11,224.13 L359.29,224.14 L360.48,224.15 L361.67,224.16 L362.85,224.17 L364.04,224.18 L365.22,224.19 L366.41,224.20 L367.60,224.21 L368.78,224.22 L369.97,224.23 L371.15,224.24 L372.34,224.25 L373.53,224.26 L374.71,224.27 L375.90,224.28 L377.08,224.28 L378.27,224.29 L379.46,224.30 L380.64,224.31 L381.83,224.32 L383.01,224.33 L384.20,224.34" fill="none" stroke="#ff0000" stroke-width="2.25" stroke-dasharray="1.9 2.9"/>
<path d="M87.70,225.20 L88.00,219.26 L88.29,213.50 L88.59,207.91 L88.89,202.49 L89.18,197.24 L89.48,192.14 L89.78,187.20 L90.07,182.40 L90.37,177.75 L90.67,173.24 L90.96,168.86 L91.26,164.61 L91.55,160.49 L91.85,156.50 L92.15,152.62 L92.44,148.86 L92.74,145.21 L93.04,141.67 L93.33,138.23 L93.63,134.90 L93.93,131.67 L94.22,128.53 L94.52,125.49 L94.82,122.54 L95.11,119.67 L95.41,116.90 L95.71,114.20 L96.00,111.58 L96.30,109.05 L96.59,106.58 L96.89,104.19 L97.19,101.87 L97.48,99.61 L97.78,97.42 L98.08,95.30 L98.37,93.24 L98.67,91.23 L98.97,89.29 L99.26,87.40 L99.56,85.57 L99.86,83.78 L100.15,82.05 L100.45,80.37 L100.75,78.74 L101.04,77.16 L101.34,75.62 L101.64,74.12 L101.93,72.66 L102.23,71.25 L102.53,69.88 L102.82,68.54 L103.12,67.22 L103.41,65.94 L103.71,64.68 L104.01,63.44 L104.30,62.23 L104.60,61.05 L104.90,59.89 L105.19,58.75 L105.49,57.63 L105.79,56.54 L106.08,55.47 L106.38,54.42 L106.68,53.39 L106.97,52.39 L107.27,51.40 L107.57,50.44 L107.86,49.50 L108.16,48.57 L108.46,47.67 L108.75,46.79 L109.05,45.93 L109.34,45.09 L109.64,44.28 L109.94,43.48 L110.23,42.70 L110.53,41.95 L110.83,41.21 L111.12,40.50 L111.42,39.81 L111.72,39.14 L112.01,38.49 L112.31,37.86 L112.61,37.25 L112.90,36.67 L113.20,36.11 L113.50,35.57 L113.79,35.06 L114.09,34.56 L114.39,34.09 L114.68,33.65 L114.98,33.23 L115.27,32.83 L115.57,32.45 L115.87,32.10 L116.16,31.78 L116.46,31.48 L116.76,31.20 L117.05,30.95 L117.35,30.73 L117.65,30.53 L117.94,30.34 L118.24,30.17 L118.54,30.01 L118.83,29.87 L119.13,29.74 L119.43,29.63 L119.72,29.53 L120.02,29.44 L120.32,29.37 L120.61,29.31 L120.91,29.26 L121.20,29.22 L121.50,29.20 L121.80,29.19 L122.09,29.18 L122.39,29.19 L122.69,29.21 L122.98,29.24 L123.28,29.28 L124.47,29.53 L125.65,29.91 L126.84,30.42 L128.02,31.03 L129.21,31.74 L130.40,32.52 L131.58,33.37 L132.77,34.28 L133.95,35.22 L135.14,36.20 L136.33,37.23 L137.51,38.29 L138.70,39.40 L139.88,40.56 L141.07,41.77 L142.26,43.04 L143.44,44.36 L144.63,45.74 L145.81,47.18 L147.00,48.69 L148.19,50.24 L149.37,51.82 L150.56,53.42 L151.74,55.04 L152.93,56.66 L154.12,58.29 L155.30,59.92 L156.49,61.55 L157.67,63.17 L158.86,64.78 L160.05,66.39 L161.23,67.97 L162.42,69.54 L163.60,71.10 L164.79,72.66 L165.98,74.20 L167.16,75.73 L168.35,77.25 L169.53,78.76 L170.72,80.24 L171.91,81.71 L173.09,83.16 L174.28,84.59 L175.46,86.00 L176.65,87.38 L177.84,88.74 L179.02,90.08 L180.21,91.39 L181.39,92.69 L182.58,93.96 L183.77,95.22 L184.95,96.45 L186.14,97.67 L187.32,98.88 L188.51,100.06 L189.70,101.23 L190.88,102.39 L192.07,103.53 L193.25,104.65 L194.44,105.77 L195.63,106.87 L196.81,107.96 L198.00,109.04 L199.18,110.11 L200.37,111.17 L201.56,112.21 L202.74,113.25 L203.93,114.29 L205.11,115.31 L206.30,116.33 L207.49,117.33 L208.67,118.33 L209.86,119.31 L211.04,120.28 L212.23,121.23 L213.42,122.18 L214.60,123.11 L215.79,124.03 L216.97,124.94 L218.16,125.85 L219.35,126.74 L220.53,127.62 L221.72,128.49 L222.90,129.36 L224.09,130.21 L225.28,131.05 L226.46,131.89 L227.65,132.72 L228.83,133.54 L230.02,134.35 L231.21,135.16 L232.39,135.96 L233.58,136.75 L234.76,137.53 L235.95,138.31 L237.14,139.08 L238.32,139.84 L239.51,140.59 L240.69,141.34 L241.88,142.08 L243.07,142.80 L244.25,143.52 L245.44,144.24 L246.62,144.94 L247.81,145.64 L249.00,146.32 L250.18,147.00 L251.37,147.68 L252.55,148.34 L253.74,149.00 L254.93,149.64 L256.11,150.29 L257.30,150.92 L258.48,151.54 L259.67,152.16 L260.86,152.77 L262.04,153.37 L263.23,153.97 L264.41,154.56 L265.60,155.14 L266.79,155.71 L267.97,156.28 L269.16,156.84 L270.34,157.39 L271.53,157.94 L272.72,158.48 L273.90,159.02 L275.09,159.55 L276.27,160.07 L277.46,160.59 L278.65,161.10 L279.83,161.60 L281.02,162.10 L282.20,162.60 L283.39,163.08 L284.58,163.57 L285.76,164.04 L286.95,164.52 L288.13,164.98 L289.32,165.44 L290.51,165.90 L291.69,166.35 L292.88,166.80 L294.06,167.24 L295.25,167.68 L296.44,168.11 L297.62,168.54 L298.81,168.96 L299.99,169.38 L301.18,169.79 L302.37,170.20 L303.55,170.60 L304.74,171.00 L305.92,171.40 L307.11,171.79 L308.30,172.18 L309.48,172.56 L310.67,172.94 L311.85,173.32 L313.04,173.69 L314.23,174.06 L315.41,174.42 L316.60,174.78 L317.78,175.14 L318.97,175.49 L320.16,175.84 L321.34,176.19 L322.53,176.53 L323.71,176.87 L324.90,177.21 L326.09,177.54 L327.27,177.87 L328.46,178.19 L329.64,178.52 L330.83,178.83 L332.02,179.15 L333.20,179.46 L334.39,179.77 L335.57,180.08 L336.76,180.38 L337.95,180.68 L339.13,180.98 L340.32,181.28 L341.50,181.57 L342.69,181.86 L343.88,182.14 L345.06,182.43 L346.25,182.71 L347.43,182.99 L348.62,183.26 L349.81,183.54 L350.99,183.81 L352.18,184.08 L353.36,184.35 L354.55,184.61 L355.74,184.87 L356.92,185.13 L358.11,185.39 L359.29,185.64 L360.48,185.90 L361.67,186.15 L362.85,186.39 L364.04,186.64 L365.22,186.88 L366.41,187.12 L367.60,187.36 L368.78,187.60 L369.97,187.83 L371.15,188.07 L372.34,188.30 L373.53,188.53 L374.71,188.75 L375.90,188.98 L377.08,189.20 L378.27,189.42 L379.46,189.64 L380.64,189.86 L381.83,190.07 L383.01,190.29 L384.20,190.50" fill="none" stroke="#808000" stroke-width="2.2" stroke-dasharray="1.2 1.2"/>
<path d="M87.70,225.20 L88.00,222.66 L88.29,220.21 L88.59,217.84 L88.89,215.56 L89.18,213.35 L89.48,211.22 L89.78,209.16 L90.07,207.17 L90.37,205.25 L90.67,203.40 L90.96,201.60 L91.26,199.87 L91.55,198.19 L91.85,196.57 L92.15,195.01 L92.44,193.49 L92.74,192.03 L93.04,190.61 L93.33,189.25 L93.63,187.92 L93.93,186.65 L94.22,185.41 L94.52,184.22 L94.82,183.07 L95.11,181.95 L95.41,180.87 L95.71,179.83 L96.00,178.81 L96.30,177.82 L96.59,176.85 L96.89,175.92 L97.19,175.00 L97.48,174.12 L97.78,173.25 L98.08,172.41 L98.37,171.59 L98.67,170.80 L98.97,170.03 L99.26,169.27 L99.56,168.54 L99.86,167.83 L100.15,167.14 L100.45,166.47 L100.75,165.83 L101.04,165.20 L101.34,164.59 L101.64,164.00 L101.93,163.43 L102.23,162.88 L102.53,162.36 L102.82,161.84 L103.12,161.34 L103.41,160.86 L103.71,160.38 L104.01,159.92 L104.30,159.47 L104.60,159.03 L104.90,158.60 L105.19,158.18 L105.49,157.77 L105.79,157.37 L106.08,156.99 L106.38,156.61 L106.68,156.24 L106.97,155.88 L107.27,155.53 L107.57,155.19 L107.86,154.86 L108.16,154.54 L108.46,154.22 L108.75,153.92 L109.05,153.62 L109.34,153.33 L109.64,153.06 L109.94,152.79 L110.23,152.52 L110.53,152.27 L110.83,152.03 L111.12,151.79 L111.42,151.56 L111.72,151.34 L112.01,151.13 L112.31,150.93 L112.61,150.73 L112.90,150.55 L113.20,150.37 L113.50,150.20 L113.79,150.04 L114.09,149.89 L114.39,149.74 L114.68,149.61 L114.98,149.48 L115.27,149.36 L115.57,149.25 L115.87,149.15 L116.16,149.06 L116.46,148.98 L116.76,148.90 L117.05,148.83 L117.35,148.77 L117.65,148.72 L117.94,148.68 L118.24,148.64 L118.54,148.60 L118.83,148.57 L119.13,148.55 L119.43,148.53 L119.72,148.52 L120.02,148.51 L120.32,148.50 L120.61,148.50 L120.91,148.50 L121.20,148.51 L121.50,148.52 L121.80,148.54 L122.09,148.56 L122.39,148.58 L122.69,148.61 L122.98,148.64 L123.28,148.67 L124.47,148.85 L125.65,149.08 L126.84,149.35 L128.02,149.67 L129.21,150.02 L130.40,150.41 L131.58,150.83 L132.77,151.29 L133.95,151.76 L135.14,152.26 L136.33,152.77 L137.51,153.31 L138.70,153.85 L139.88,154.42 L141.07,154.99 L142.26,155.58 L143.44,156.17 L144.63,156.78 L145.81,157.39 L147.00,158.01 L148.19,158.64 L149.37,159.26 L150.56,159.89 L151.74,160.52 L152.93,161.15 L154.12,161.78 L155.30,162.41 L156.49,163.04 L157.67,163.67 L158.86,164.30 L160.05,164.92 L161.23,165.55 L162.42,166.17 L163.60,166.79 L164.79,167.41 L165.98,168.03 L167.16,168.64 L168.35,169.24 L169.53,169.84 L170.72,170.43 L171.91,171.02 L173.09,171.60 L174.28,172.17 L175.46,172.73 L176.65,173.28 L177.84,173.82 L179.02,174.36 L180.21,174.88 L181.39,175.40 L182.58,175.91 L183.77,176.41 L184.95,176.90 L186.14,177.39 L187.32,177.87 L188.51,178.35 L189.70,178.82 L190.88,179.28 L192.07,179.73 L193.25,180.18 L194.44,180.63 L195.63,181.07 L196.81,181.50 L198.00,181.93 L199.18,182.35 L200.37,182.77 L201.56,183.18 L202.74,183.59 L203.93,183.99 L205.11,184.39 L206.30,184.79 L207.49,185.18 L208.67,185.57 L209.86,185.95 L211.04,186.32 L212.23,186.69 L213.42,187.05 L214.60,187.41 L215.79,187.77 L216.97,188.12 L218.16,188.47 L219.35,188.81 L220.53,189.15 L221.72,189.48 L222.90,189.81 L224.09,190.14 L225.28,190.46 L226.46,190.78 L227.65,191.10 L228.83,191.41 L230.02,191.72 L231.21,192.03 L232.39,192.33 L233.58,192.64 L234.76,192.94 L235.95,193.24 L237.14,193.53 L238.32,193.82 L239.51,194.11 L240.69,194.40 L241.88,194.68 L243.07,194.95 L244.25,195.23 L245.44,195.50 L246.62,195.77 L247.81,196.03 L249.00,196.30 L250.18,196.56 L251.37,196.81 L252.55,197.06 L253.74,197.31 L254.93,197.56 L256.11,197.80 L257.30,198.04 L258.48,198.28 L259.67,198.52 L260.86,198.75 L262.04,198.98 L263.23,199.21 L264.41,199.43 L265.60,199.65 L266.79,199.87 L267.97,200.08 L269.16,200.30 L270.34,200.51 L271.53,200.72 L272.72,200.92 L273.90,201.13 L275.09,201.33 L276.27,201.53 L277.46,201.72 L278.65,201.92 L279.83,202.11 L281.02,202.30 L282.20,202.48 L283.39,202.67 L284.58,202.85 L285.76,203.03 L286.95,203.21 L288.13,203.39 L289.32,203.56 L290.51,203.73 L291.69,203.91 L292.88,204.07 L294.06,204.24 L295.25,204.41 L296.44,204.57 L297.62,204.73 L298.81,204.89 L299.99,205.05 L301.18,205.20 L302.37,205.36 L303.55,205.51 L304.74,205.66 L305.92,205.81 L307.11,205.96 L308.30,206.10 L309.48,206.25 L310.67,206.39 L311.85,206.53 L313.04,206.67 L314.23,206.81 L315.41,206.94 L316.60,207.08 L317.78,207.21 L318.97,207.35 L320.16,207.48 L321.34,207.61 L322.53,207.73 L323.71,207.86 L324.90,207.99 L326.09,208.11 L327.27,208.24 L328.46,208.36 L329.64,208.48 L330.83,208.60 L332.02,208.72 L333.20,208.83 L334.39,208.95 L335.57,209.06 L336.76,209.18 L337.95,209.29 L339.13,209.40 L340.32,209.51 L341.50,209.62 L342.69,209.73 L343.88,209.83 L345.06,209.94 L346.25,210.05 L347.43,210.15 L348.62,210.25 L349.81,210.35 L350.99,210.45 L352.18,210.55 L353.36,210.65 L354.55,210.75 L355.74,210.85 L356.92,210.95 L358.11,211.04 L359.29,211.14 L360.48,211.23 L361.67,211.32 L362.85,211.41 L364.04,211.50 L365.22,211.59 L366.41,211.68 L367.60,211.77 L368.78,211.86 L369.97,211.94 L371.15,212.03 L372.34,212.12 L373.53,212.20 L374.71,212.28 L375.90,212.36 L377.08,212.45 L378.27,212.53 L379.46,212.61 L380.64,212.69 L381.83,212.77 L383.01,212.84 L384.20,212.92" fill="none" stroke="#808000" stroke-width="2.2" stroke-dasharray="1.2 1.2"/>
<path d="M87.70,225.20 L88.00,224.36 L88.29,223.57 L88.59,222.81 L88.89,222.10 L89.18,221.42 L89.48,220.78 L89.78,220.17 L90.07,219.60 L90.37,219.05 L90.67,218.53 L90.96,218.04 L91.26,217.57 L91.55,217.13 L91.85,216.71 L92.15,216.30 L92.44,215.92 L92.74,215.55 L93.04,215.20 L93.33,214.87 L93.63,214.54 L93.93,214.23 L94.22,213.93 L94.52,213.64 L94.82,213.36 L95.11,213.09 L95.41,212.83 L95.71,212.57 L96.00,212.32 L96.30,212.08 L96.59,211.85 L96.89,211.62 L97.19,211.41 L97.48,211.19 L97.78,210.99 L98.08,210.79 L98.37,210.60 L98.67,210.41 L98.97,210.24 L99.26,210.06 L99.56,209.90 L99.86,209.74 L100.15,209.59 L100.45,209.44 L100.75,209.30 L101.04,209.17 L101.34,209.04 L101.64,208.92 L101.93,208.81 L102.23,208.70 L102.53,208.60 L102.82,208.51 L103.12,208.43 L103.41,208.34 L103.71,208.27 L104.01,208.20 L104.30,208.13 L104.60,208.07 L104.90,208.01 L105.19,207.95 L105.49,207.90 L105.79,207.86 L106.08,207.82 L106.38,207.78 L106.68,207.74 L106.97,207.71 L107.27,207.68 L107.57,207.65 L107.86,207.63 L108.16,207.61 L108.46,207.59 L108.75,207.58 L109.05,207.57 L109.34,207.56 L109.64,207.55 L109.94,207.54 L110.23,207.54 L110.53,207.54 L110.83,207.54 L111.12,207.54 L111.42,207.54 L111.72,207.55 L112.01,207.55 L112.31,207.56 L112.61,207.57 L112.90,207.58 L113.20,207.59 L113.50,207.60 L113.79,207.62 L114.09,207.63 L114.39,207.65 L114.68,207.66 L114.98,207.68 L115.27,207.70 L115.57,207.71 L115.87,207.73 L116.16,207.75 L116.46,207.77 L116.76,207.79 L117.05,207.81 L117.35,207.83 L117.65,207.85 L117.94,207.87 L118.24,207.89 L118.54,207.90 L118.83,207.92 L119.13,207.94 L119.43,207.95 L119.72,207.97 L120.02,207.98 L120.32,208.00 L120.61,208.01 L120.91,208.02 L121.20,208.04 L121.50,208.05 L121.80,208.06 L122.09,208.07 L122.39,208.08 L122.69,208.10 L122.98,208.11 L123.28,208.12 L124.47,208.17 L125.65,208.22 L126.84,208.27 L128.02,208.34 L129.21,208.41 L130.40,208.50 L131.58,208.60 L132.77,208.71 L133.95,208.82 L135.14,208.92 L136.33,209.01 L137.51,209.11 L138.70,209.22 L139.88,209.33 L141.07,209.45 L142.26,209.59 L143.44,209.74 L144.63,209.92 L145.81,210.11 L147.00,210.33 L148.19,210.56 L149.37,210.80 L150.56,211.03 L151.74,211.27 L152.93,211.51 L154.12,211.74 L155.30,211.98 L156.49,212.20 L157.67,212.43 L158.86,212.65 L160.05,212.86 L161.23,213.07 L162.42,213.27 L163.60,213.47 L164.79,213.67 L165.98,213.85 L167.16,214.04 L168.35,214.22 L169.53,214.40 L170.72,214.58 L171.91,214.75 L173.09,214.91 L174.28,215.08 L175.46,215.24 L176.65,215.40 L177.84,215.56 L179.02,215.71 L180.21,215.86 L181.39,216.01 L182.58,216.15 L183.77,216.29 L184.95,216.43 L186.14,216.56 L187.32,216.70 L188.51,216.82 L189.70,216.95 L190.88,217.08 L192.07,217.20 L193.25,217.32 L194.44,217.44 L195.63,217.56 L196.81,217.67 L198.00,217.78 L199.18,217.89 L200.37,218.00 L201.56,218.11 L202.74,218.21 L203.93,218.31 L205.11,218.42 L206.30,218.52 L207.49,218.61 L208.67,218.71 L209.86,218.81 L211.04,218.90 L212.23,218.99 L213.42,219.08 L214.60,219.17 L215.79,219.25 L216.97,219.34 L218.16,219.42 L219.35,219.50 L220.53,219.58 L221.72,219.66 L222.90,219.74 L224.09,219.82 L225.28,219.89 L226.46,219.97 L227.65,220.04 L228.83,220.11 L230.02,220.18 L231.21,220.25 L232.39,220.32 L233.58,220.39 L234.76,220.45 L235.95,220.52 L237.14,220.58 L238.32,220.65 L239.51,220.71 L240.69,220.77 L241.88,220.83 L243.07,220.89 L244.25,220.95 L245.44,221.00 L246.62,221.06 L247.81,221.12 L249.00,221.17 L250.18,221.22 L251.37,221.28 L252.55,221.33 L253.74,221.38 L254.93,221.43 L256.11,221.48 L257.30,221.53 L258.48,221.58 L259.67,221.62 L260.86,221.67 L262.04,221.71 L263.23,221.76 L264.41,221.80 L265.60,221.85 L266.79,221.89 L267.97,221.93 L269.16,221.97 L270.34,222.01 L271.53,222.05 L272.72,222.09 L273.90,222.13 L275.09,222.17 L276.27,222.20 L277.46,222.24 L278.65,222.28 L279.83,222.31 L281.02,222.35 L282.20,222.38 L283.39,222.42 L284.58,222.45 L285.76,222.48 L286.95,222.52 L288.13,222.55 L289.32,222.58 L290.51,222.61 L291.69,222.64 L292.88,222.67 L294.06,222.70 L295.25,222.73 L296.44,222.76 L297.62,222.78 L298.81,222.81 L299.99,222.84 L301.18,222.86 L302.37,222.89 L303.55,222.92 L304.74,222.94 L305.92,222.97 L307.11,222.99 L308.30,223.01 L309.48,223.04 L310.67,223.06 L311.85,223.09 L313.04,223.11 L314.23,223.13 L315.41,223.15 L316.60,223.18 L317.78,223.20 L318.97,223.22 L320.16,223.24 L321.34,223.26 L322.53,223.28 L323.71,223.30 L324.90,223.32 L326.09,223.34 L327.27,223.36 L328.46,223.38 L329.64,223.40 L330.83,223.42 L332.02,223.44 L333.20,223.46 L334.39,223.48 L335.57,223.50 L336.76,223.52 L337.95,223.53 L339.13,223.55 L340.32,223.57 L341.50,223.59 L342.69,223.60 L343.88,223.62 L345.06,223.64 L346.25,223.65 L347.43,223.67 L348.62,223.68 L349.81,223.70 L350.99,223.71 L352.18,223.73 L353.36,223.74 L354.55,223.76 L355.74,223.77 L356.92,223.79 L358.11,223.80 L359.29,223.82 L360.48,223.83 L361.67,223.84 L362.85,223.86 L364.04,223.87 L365.22,223.88 L366.41,223.89 L367.60,223.91 L368.78,223.92 L369.97,223.93 L371.15,223.94 L372.34,223.96 L373.53,223.97 L374.71,223.98 L375.90,223.99 L377.08,224.00 L378.27,224.01 L379.46,224.03 L380.64,224.04 L381.83,224.05 L383.01,224.06 L384.20,224.07" fill="none" stroke="#808000" stroke-width="2.2" stroke-dasharray="1.2 1.2"/>
</g>
<rect x="87.7" y="18.1" width="296.50" height="206.90" fill="none" stroke="#000" stroke-width="2.2"/>
<g>
<text x="89.40" y="246" text-anchor="middle">1</text>
<text x="119.05" y="246" text-anchor="middle">1.5</text>
<text x="148.70" y="246" text-anchor="middle">2</text>
<text x="178.35" y="246" text-anchor="middle">2.5</text>
<text x="208.00" y="246" text-anchor="middle">3</text>
<text x="237.65" y="246" text-anchor="middle">3.5</text>
<text x="267.30" y="246" text-anchor="middle">4</text>
<text x="296.95" y="246" text-anchor="middle">4.5</text>
<text x="326.60" y="246" text-anchor="middle">5</text>
<text x="356.25" y="246" text-anchor="middle">5.5</text>
<text x="385.90" y="246" text-anchor="middle">6</text>
<text x="78.9" y="230.30" text-anchor="end">0</text>
<text x="78.9" y="195.82" text-anchor="end">0.05</text>
<text x="78.9" y="161.33" text-anchor="end">0.1</text>
<text x="78.9" y="126.85" text-anchor="end">0.15</text>
<text x="78.9" y="92.37" text-anchor="end">0.2</text>
<text x="78.9" y="57.88" text-anchor="end">0.25</text>
<text x="78.9" y="23.40" text-anchor="end">0.3</text>
<text x="313.4" y="37.30" text-anchor="end">Schwarzschild</text>
<path d="M322.8,31.70 H365.8" fill="none" stroke="#000" stroke-width="2.25"/>
<text x="313.4" y="52.70" text-anchor="end"><tspan font-style="italic">Q</tspan><tspan dy="1.5">=</tspan><tspan dy="-1.5">0.4</tspan></text>
<path d="M322.8,47.10 H365.8" fill="none" stroke="#0000ff" stroke-width="2.25" stroke-dasharray="3.7 1.25"/>
<text x="313.4" y="67.90" text-anchor="end"><tspan font-style="italic">Q</tspan><tspan dy="1.5">=</tspan><tspan dy="-1.5">0.8</tspan></text>
<path d="M322.8,62.30 H365.8" fill="none" stroke="#ff0000" stroke-width="2.25" stroke-dasharray="1.9 2.9"/>
<text x="313.4" y="83.30" text-anchor="end"><tspan font-style="italic">Q</tspan><tspan dy="1.5">=</tspan><tspan dy="-1.5">0.9999</tspan></text>
<path d="M322.8,77.70 H365.8" fill="none" stroke="#808000" stroke-width="2.2" stroke-dasharray="1.2 1.2"/>
<text x="146.9" y="44"><tspan font-style="italic">l</tspan><tspan dy="1.5">=</tspan><tspan dy="-1.5">2</tspan></text>
<text x="128.7" y="143.7"><tspan font-style="italic">l</tspan><tspan dy="1.5">=</tspan><tspan dy="-1.5">1</tspan></text>
<text x="117.3" y="203.2"><tspan font-style="italic">l</tspan><tspan dy="1.5">=</tspan><tspan dy="-1.5">0</tspan></text>
<text x="224.6" y="267.5"><tspan font-style="italic">r</tspan>/<tspan font-style="italic">r</tspan><tspan font-size="12.4" dy="4.2">h</tspan></text>
<text transform="translate(19.9,141.3) rotate(-90)"><tspan font-style="italic">V</tspan><tspan font-style="italic" font-size="12.4" dy="4.2">&#981;</tspan><tspan dy="-4.2" dx="3.5" font-style="italic">M</tspan><tspan font-size="12.4" dy="-7">2</tspan></text>
</g>
</svg>
</body></html>
